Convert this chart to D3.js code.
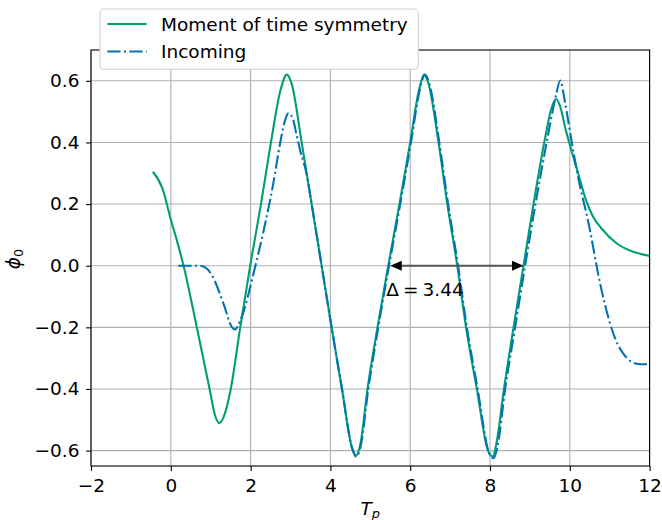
<!DOCTYPE html>
<html>
<head>
<meta charset="utf-8">
<script src="https://cdn.jsdelivr.net/npm/d3@7"></script>
<style>
  html, body { margin: 0; padding: 0; background: #fff; }
  svg { display: block; font-family: "DejaVu Sans", sans-serif; }
</style>
</head>
<body>
<svg id="chart" width="662" height="520"></svg>
<script>
// ---------------- data ----------------
const xTicks = [-2, 0, 2, 4, 6, 8, 10, 12];
const yTicks = [-0.6, -0.4, -0.2, 0.0, 0.2, 0.4, 0.6];
const seriesNames = ["Moment of time symmetry", "Incoming"];

const momentX = [-0.45, -0.21, 0.0, 0.15, 0.32, 0.65, 0.98, 1.11, 1.22, 1.34, 1.50, 1.74, 1.99, 2.26, 2.51, 2.75, 2.91, 3.03, 3.28, 3.53, 3.78, 4.03, 4.29, 4.54, 4.64, 4.75, 4.93, 5.18, 5.45, 5.73, 6.00, 6.22, 6.35, 6.46, 6.71, 6.93, 7.18, 7.40, 7.67, 7.95, 8.07, 8.17, 8.35, 8.59, 8.84, 9.09, 9.36, 9.55, 9.66, 9.75, 9.90, 10.05, 10.22, 10.40, 10.58, 10.80, 11.18, 11.59, 12.0];
const momentY = [0.305, 0.251, 0.150, 0.083, 0.0, -0.199, -0.405, -0.486, -0.511, -0.486, -0.402, -0.200, 0.0, 0.200, 0.400, 0.570, 0.620, 0.590, 0.400, 0.200, 0.0, -0.200, -0.400, -0.590, -0.616, -0.580, -0.400, -0.200, 0.0, 0.200, 0.400, 0.570, 0.620, 0.590, 0.400, 0.200, 0.0, -0.200, -0.400, -0.600, -0.619, -0.570, -0.400, -0.200, 0.0, 0.200, 0.400, 0.515, 0.541, 0.520, 0.440, 0.370, 0.295, 0.215, 0.160, 0.120, 0.072, 0.045, 0.032];

const incomingX = [0.19, 0.50, 0.73, 0.90, 1.03, 1.32, 1.53, 1.61, 1.75, 2.12, 2.32, 2.57, 2.74, 2.86, 2.95, 3.05, 3.16, 3.25, 3.40, 3.53, 3.78, 4.03, 4.29, 4.55, 4.65, 4.76, 4.95, 5.20, 5.47, 5.75, 6.02, 6.24, 6.37, 6.48, 6.73, 6.95, 7.20, 7.42, 7.69, 7.97, 8.09, 8.19, 8.38, 8.63, 8.88, 9.14, 9.42, 9.65, 9.76, 9.88, 10.05, 10.22, 10.47, 10.76, 11.01, 11.20, 11.34, 11.50, 11.68, 11.85, 12.0];
const incomingY = [0.0, 0.0, 0.0, -0.009, -0.031, -0.123, -0.199, -0.207, -0.175, 0.0, 0.110, 0.268, 0.398, 0.470, 0.495, 0.480, 0.420, 0.370, 0.300, 0.200, 0.0, -0.200, -0.400, -0.595, -0.620, -0.585, -0.400, -0.200, 0.0, 0.200, 0.400, 0.570, 0.620, 0.590, 0.400, 0.200, 0.0, -0.200, -0.400, -0.605, -0.625, -0.585, -0.400, -0.200, 0.0, 0.200, 0.400, 0.550, 0.601, 0.530, 0.400, 0.280, 0.138, -0.058, -0.188, -0.255, -0.285, -0.308, -0.318, -0.320, -0.318];

const deltaStart = 5.45;
const deltaValue = 3.44;
const deltaLabel = "Δ = 3.44";

// ---------------- layout ----------------
const W = 662, H = 520;
const plot = { left: 91, right: 649.6, top: 50, bottom: 466 };
const FONT = 18.5;
const green = "#029e73", blue = "#0173b2";

const svg = d3.select("#chart");
const x = d3.scaleLinear().domain([-2, 12]).range([plot.left, plot.right]);
const y = d3.scaleLinear().domain([-0.65, 0.70]).range([plot.bottom, plot.top]);

const fmt = v => {
  const s = Math.abs(v).toFixed(1);
  return (v < -1e-9 ? "\u2212" : "") + s;
};
const fmtX = v => (v < 0 ? "\u2212" : "") + Math.abs(v);

// grid
const grid = svg.append("g").attr("stroke", "#b0b0b0").attr("stroke-width", 1.1);
xTicks.forEach(t => grid.append("line")
  .attr("x1", x(t)).attr("x2", x(t)).attr("y1", plot.top).attr("y2", plot.bottom));
yTicks.forEach(t => grid.append("line")
  .attr("x1", plot.left).attr("x2", plot.right).attr("y1", y(t)).attr("y2", y(t)));

// clip
svg.append("clipPath").attr("id", "clip").append("rect")
  .attr("x", plot.left).attr("y", plot.top)
  .attr("width", plot.right - plot.left).attr("height", plot.bottom - plot.top);

const line = d3.line().x(d => x(d[0])).y(d => y(d[1])).curve(d3.curveMonotoneX);
const momentData = momentX.map((v, i) => [v, momentY[i]]);
const incomingData = incomingX.map((v, i) => [v, incomingY[i]]);

const curves = svg.append("g").attr("clip-path", "url(#clip)");
curves.append("path").datum(momentData)
  .attr("d", line).attr("fill", "none").attr("stroke", green).attr("stroke-width", 2.1);
curves.append("path").datum(incomingData)
  .attr("d", line).attr("fill", "none").attr("stroke", blue).attr("stroke-width", 2.1)
  .attr("stroke-dasharray", "13.3,3.3,2.1,3.3");

// arrow annotation
const ay = y(0);
const shrink = 2;
const xa = x(deltaStart) + shrink, xb = x(deltaStart + deltaValue) - shrink;
const hl = 11.5, hw = 5;
const ann = svg.append("g");
ann.append("line").attr("x1", xa + hl - 1).attr("x2", xb - hl + 1).attr("y1", ay).attr("y2", ay)
  .attr("stroke", "#555").attr("stroke-width", 2);
ann.append("path").attr("d", `M${xa},${ay} L${xa + hl},${ay - hw} L${xa + hl},${ay + hw} Z`).attr("fill", "#000");
ann.append("path").attr("d", `M${xb},${ay} L${xb - hl},${ay - hw} L${xb - hl},${ay + hw} Z`).attr("fill", "#000");
ann.append("text").attr("x", x(deltaStart) - 2).attr("y", ay + 30.5)
  .attr("font-size", FONT).attr("word-spacing", -1.8).attr("fill", "#000").text(deltaLabel);

// axes
const xAxis = d3.axisBottom(x).tickValues(xTicks).tickFormat(fmtX).tickSize(4.9).tickPadding(7.5);
const yAxis = d3.axisLeft(y).tickValues(yTicks).tickFormat(fmt).tickSize(4.9).tickPadding(6.6);

const gx = svg.append("g").attr("transform", `translate(0,${plot.bottom})`).call(xAxis);
const gy = svg.append("g").attr("transform", `translate(${plot.left},0)`).call(yAxis);
[gx, gy].forEach(g => {
  g.select(".domain").remove();
  g.selectAll(".tick line").attr("stroke", "#000").attr("stroke-width", 1.1);
  g.selectAll(".tick text").attr("font-size", FONT).attr("fill", "#000")
    .attr("font-family", "DejaVu Sans, sans-serif");
});

// spines
svg.append("rect").attr("x", plot.left).attr("y", plot.top)
  .attr("width", plot.right - plot.left).attr("height", plot.bottom - plot.top)
  .attr("fill", "none").attr("stroke", "#000").attr("stroke-width", 1.1);

// axis labels
const xl = svg.append("text").attr("x", (plot.left + plot.right) / 2).attr("y", 514.5)
  .attr("text-anchor", "middle").attr("font-size", FONT).attr("font-style", "italic").attr("fill", "#000");
xl.append("tspan").text("T");
xl.append("tspan").attr("font-size", FONT * 0.7).attr("dy", 3.5).text("p");

const yl = svg.append("text")
  .attr("transform", `translate(19.5,${(plot.top + plot.bottom) / 2 + 1}) rotate(-90)`)
  .attr("text-anchor", "middle").attr("font-size", FONT).attr("font-style", "italic").attr("fill", "#000");
yl.append("tspan").text("\u03D5");
yl.append("tspan").attr("font-size", FONT * 0.7).attr("font-style", "normal").attr("dy", 3.5).text("0");

// legend
const lg = svg.append("g");
lg.append("rect").attr("x", 100).attr("y", 9).attr("width", 318.3).attr("height", 60.3)
  .attr("rx", 4).attr("fill", "#fff").attr("stroke", "#d0d0d0").attr("stroke-width", 1.1);
const legendItems = [
  { name: seriesNames[0], color: green, dash: null, yy: 24 },
  { name: seriesNames[1], color: blue, dash: "13.3,3.3,2.1,3.3", yy: 51.5 }
];
legendItems.forEach(it => {
  const l = lg.append("line").attr("x1", 107.3).attr("x2", 146.7).attr("y1", it.yy).attr("y2", it.yy)
    .attr("stroke", it.color).attr("stroke-width", 2.1);
  if (it.dash) l.attr("stroke-dasharray", it.dash);
  lg.append("text").attr("x", 161).attr("y", it.yy + 6.6).attr("font-size", FONT).attr("fill", "#000").text(it.name);
});
</script>
</body>
</html>
